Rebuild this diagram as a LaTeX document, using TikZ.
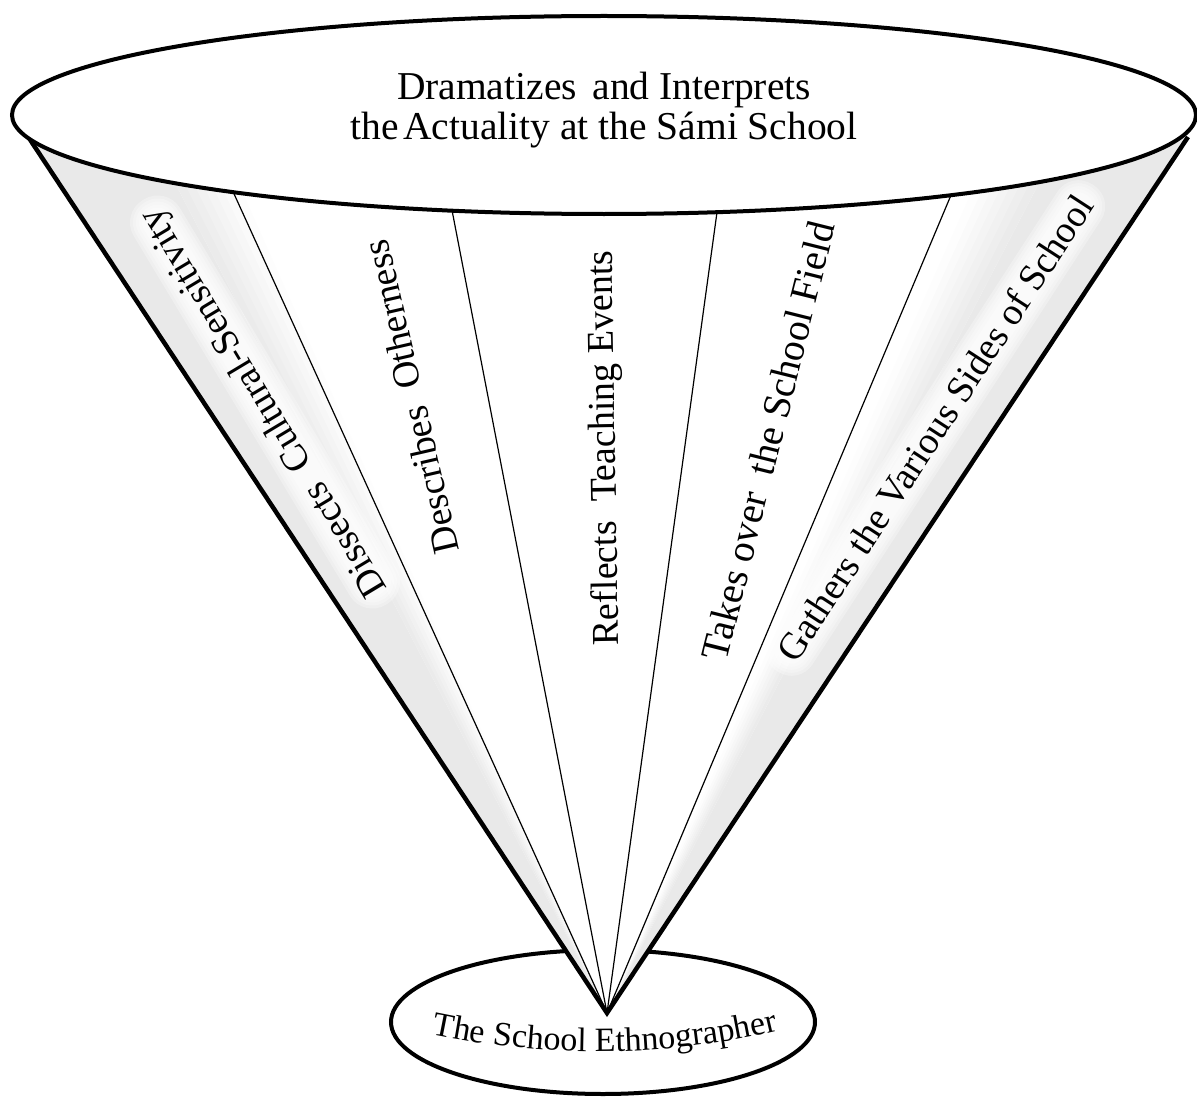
\documentclass[tikz,border=0pt]{standalone}
\usepackage{fontspec}
\setmainfont{Liberation Serif}
\usetikzlibrary{shapes.geometric,decorations.text}
\newcommand\ethfont{\fontsize{34}{36}\selectfont}
\begin{document}
\begin{tikzpicture}[x=1pt,y=-1pt,
  outline/.style={line width=4.5pt, line join=miter},
  divider/.style={line width=1.2pt},
  ellipsebox/.style={draw, ellipse, line width=4pt, fill=white, inner sep=0pt},
  lbl/.style={font=\fontsize{38}{40}\selectfont, inner sep=0pt},
  toptext/.style={font=\fontsize{39.5}{41}\selectfont, inner sep=0pt, anchor=base},
  glowlayer/.style={fill=white, fill opacity=0.3},
]
\useasboundingbox[fill=white] (0,0) rectangle (1197,1097);

% bottom ellipse
\node (base) [ellipsebox, minimum width=424pt, minimum height=144pt] at (603,1022) {};

% cone geometry
\coordinate (A) at (607,1013);
\coordinate (L) at (27,135);
\coordinate (R) at (1188,137);
\coordinate (d1) at (230,185);
\coordinate (d2) at (451,205);
\coordinate (d3) at (718,205);
\coordinate (d4) at (954,188);

\fill[white] (A) -- (L) -- (R) -- cycle;
\begin{scope}
  \clip (A) -- (L) -- (R) -- cycle;
  % left grey band with soft inner edge
  \fill[gray!17] (A) -- +(-127:1150) -- +(-117.5:1150) -- cycle;
  \foreach \i in {0,...,6}{
    \pgfmathsetmacro\aa{117.5-\i*0.5}
    \pgfmathsetmacro\ab{117.5-\i*0.5-0.55}
    \pgfmathsetmacro\cc{17*(1-(\i+0.5)/7)}
    \fill[gray!\cc] (A) -- +({-\aa}:1150) -- +({-\ab}:1150) -- cycle;
  }
  % right grey band with soft inner edge
  \fill[gray!17] (A) -- +(-53:1150) -- +(-62.5:1150) -- cycle;
  \foreach \i in {0,...,6}{
    \pgfmathsetmacro\aa{62.5+\i*0.5}
    \pgfmathsetmacro\ab{62.5+\i*0.5+0.55}
    \pgfmathsetmacro\cc{17*(1-(\i+0.5)/7)}
    \fill[gray!\cc] (A) -- +({-\aa}:1150) -- +({-\ab}:1150) -- cycle;
  }
  % soft white glow behind the two outer labels
  \begin{scope}[shift={(265,402)}, rotate=121]
    \foreach \g in {12,9,6,3,0}{
      \fill[glowlayer, rounded corners={14+\g}] (-224-\g,-15-\g) rectangle (224+\g,15+\g);
    }
  \end{scope}
  \begin{scope}[shift={(935,428)}, rotate=57]
    \foreach \g in {12,9,6,3,0}{
      \fill[glowlayer, rounded corners={13+\g}] (-278-\g,-14-\g) rectangle (278+\g,14+\g);
    }
  \end{scope}
\end{scope}

% dividers
\foreach \d in {d1,d2,d3,d4}{\draw[divider] (A) -- (\d);}
% outer lines
\draw[outline] (L) -- (A) -- (R);

% top ellipse
\node (top) [ellipsebox, minimum width=1184pt, minimum height=198pt] at (604,115) {};
\node (toptxt1) [toptext] at (604,100) {Dramatizes\hspace{0.4em}and Interprets};
\node (toptxt2) [toptext] at (604,140) {the\hspace{0.12em}Actuality at the Sámi School};

% labels in the cone
\node (s1) [lbl, rotate=121] at (265,402) {Dissects\ \ Cultural-Sensitivity};
\node (s2) [lbl, rotate=103] at (411,397) {Describes\ \ Otherness};
\node (s3) [lbl, rotate=91] at (606,448) {Reflects\ \ Teaching Events};
\node (s4) [lbl, rotate=76, font=\fontsize{39.5}{41}\selectfont] at (768,441) {Takes over\ \ the School Field};
\node (s5) [lbl, rotate=57] at (935,428) {Gathers the Various Sides of School};

% bottom label along an arc
\path[decorate, decoration={text along path, text align=center,
  text={|\ethfont|The School Ethnographer}}]
  (418,1031) .. controls (540,1059) and (670,1059) .. (792,1027);
\end{tikzpicture}
\end{document}
